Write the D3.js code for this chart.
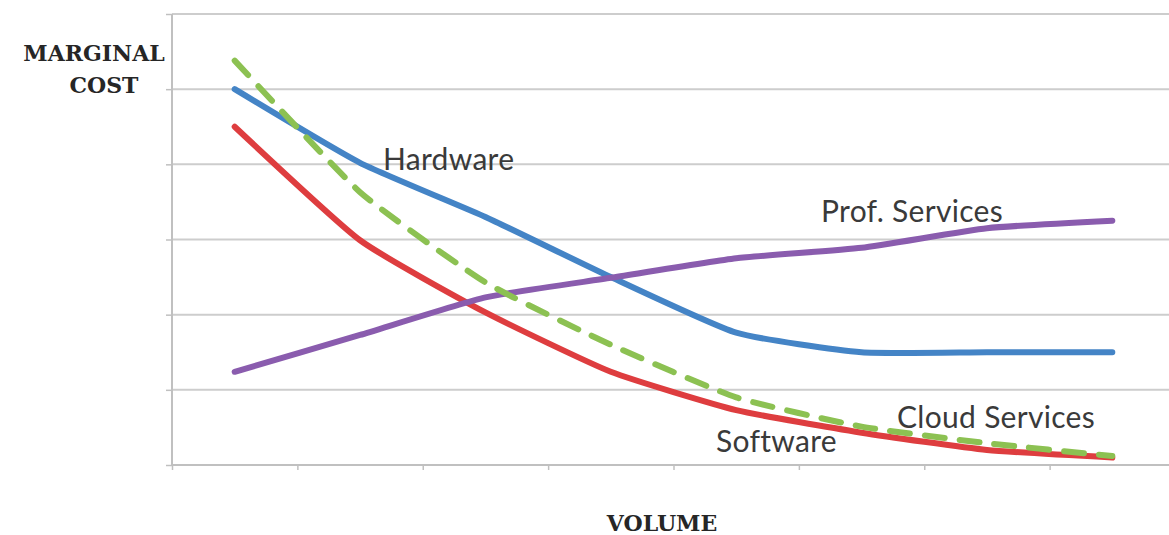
<!DOCTYPE html>
<html>
<head>
<meta charset="utf-8">
<script src="https://cdn.jsdelivr.net/npm/d3@7"></script>
<style>
  html, body { margin: 0; padding: 0; background: #fff; }
  svg { display: block; }
</style>
</head>
<body>
<svg id="chart" width="1169" height="535"></svg>
<script>
// Volume steps along the x axis (no tick labels are shown)
const categories = ["1", "2", "3", "4", "5", "6", "7", "8"];

// Marginal cost per volume step, one array per offering
const hardware      = [5.00, 4.02, 3.30, 2.50, 1.76, 1.50, 1.50, 1.50];
const software      = [4.50, 2.99, 2.03, 1.24, 0.73, 0.43, 0.20, 0.10];
const cloudServices = [5.38, 3.63, 2.43, 1.60, 0.90, 0.51, 0.29, 0.12];
const profServices  = [1.24, 1.73, 2.23, 2.49, 2.75, 2.89, 3.15, 3.25];

const seriesNames = ["Hardware", "Software", "Prof. Services", "Cloud Services"];
const yTicks = [0, 1, 2, 3, 4, 5, 6];

const svg = d3.select("#chart");
const plotLeft = 172, plotRight = 1175, plotTop = 14, plotBottom = 465;

const x = d3.scaleBand().domain(categories).range([plotLeft, plotRight]).padding(0);
const y = d3.scaleLinear().domain([0, 6]).range([plotBottom, plotTop]);

// Horizontal gridlines
svg.append("g")
  .selectAll("line")
  .data(yTicks.filter(d => d > 0))
  .join("line")
  .attr("x1", plotLeft).attr("x2", plotRight)
  .attr("y1", d => y(d)).attr("y2", d => y(d))
  .attr("stroke", "#cdcdcd")
  .attr("stroke-width", 2);

// Y axis: line with small outward ticks, no labels
const yAxis = svg.append("g")
  .attr("transform", `translate(${plotLeft},0)`)
  .call(d3.axisLeft(y).tickValues(yTicks).tickSize(6).tickFormat(() => ""));
yAxis.select(".domain").attr("stroke", "#c0c0c0").attr("stroke-width", 2)
  .attr("d", `M0,${plotTop}V${plotBottom}`);
yAxis.selectAll(".tick line").attr("stroke", "#c0c0c0").attr("stroke-width", 1.5);

// X axis: ticks sit on the boundaries between volume steps
const boundaries = categories.map(c => x(c)).concat([x(categories[categories.length - 1]) + x.bandwidth()]);
const xAxisScale = d3.scaleLinear().domain([plotLeft, plotRight]).range([plotLeft, plotRight]);
const xAxis = svg.append("g")
  .attr("transform", `translate(0,${plotBottom})`)
  .call(d3.axisBottom(xAxisScale).tickValues(boundaries).tickSize(5).tickFormat(() => ""));
xAxis.select(".domain").attr("stroke", "#c0c0c0").attr("stroke-width", 2)
  .attr("d", `M${plotLeft},0H${plotRight}`);
xAxis.selectAll(".tick line").attr("stroke", "#c0c0c0").attr("stroke-width", 1.5);

// Smoothed cost curves
const line = d3.line()
  .x((d, i) => x(categories[i]) + x.bandwidth() / 2)
  .y(d => y(d))
  .curve(d3.curveCardinal.tension(0.5));

const series = [
  { name: seriesNames[1], values: software,      color: "#de3d3f", dash: null },
  { name: seriesNames[0], values: hardware,      color: "#4484c6", dash: null },
  { name: seriesNames[2], values: profServices,  color: "#8a5cae", dash: null },
  { name: seriesNames[3], values: cloudServices, color: "#8cc152", dash: "20,15" }
];

svg.append("g")
  .selectAll("path")
  .data(series)
  .join("path")
  .attr("d", d => line(d.values))
  .attr("fill", "none")
  .attr("stroke", d => d.color)
  .attr("stroke-width", 6)
  .attr("stroke-linecap", "round")
  .attr("stroke-linejoin", "round")
  .attr("stroke-dasharray", d => d.dash);

// Series labels placed beside their curves
const labelLayout = {
  "Hardware":       { x: 383, y: 170 },
  "Prof. Services": { x: 821, y: 222 },
  "Cloud Services": { x: 897, y: 428 },
  "Software":       { x: 716, y: 452 }
};

svg.append("g")
  .selectAll("text")
  .data(seriesNames)
  .join("text")
  .attr("x", d => labelLayout[d].x)
  .attr("y", d => labelLayout[d].y)
  .attr("font-family", "Lato, 'Open Sans', sans-serif")
  .attr("font-size", 30)
  .attr("fill", "#3a3a3a")
  .attr("letter-spacing", 0.3)
  .text(d => d);

// Axis titles
const titleStyle = sel => sel
  .attr("font-family", "'DejaVu Serif', serif")
  .attr("font-weight", "bold")
  .attr("font-size", 22)
  .attr("fill", "#262626")
  .attr("text-anchor", "middle");

svg.append("text").call(titleStyle).attr("x", 94).attr("y", 61).text("MARGINAL");
svg.append("text").call(titleStyle).attr("x", 104).attr("y", 93).text("COST");
svg.append("text").call(titleStyle).attr("x", 662).attr("y", 531).text("VOLUME");
</script>
</body>
</html>
